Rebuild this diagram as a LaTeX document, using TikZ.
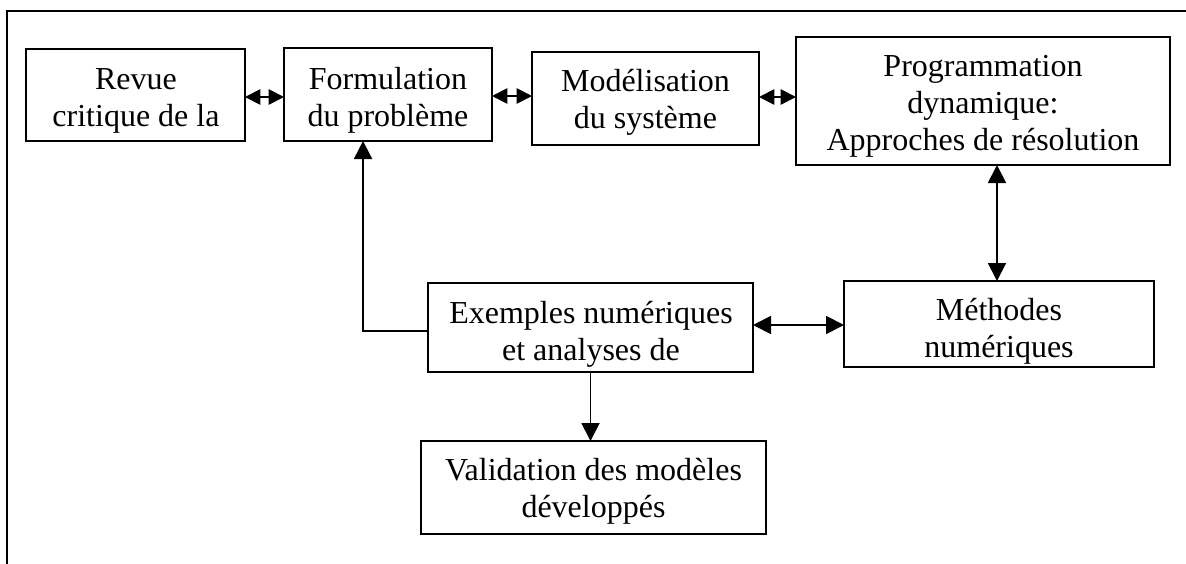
\documentclass[tikz,border=0pt]{standalone}
\usepackage{fontspec}
\setmainfont{Liberation Serif}
\usetikzlibrary{arrows.meta,calc}
\begin{document}
\begin{tikzpicture}[x=0.75pt,y=-0.75pt,
  frame/.style={line width=1.6pt},
  box/.style={draw,line width=1.5pt,rectangle,inner sep=0pt,outer sep=0pt},
  label/.style={align=center,inner sep=0pt,anchor=base,
    font=\fontsize{24}{27.75}\selectfont},
  link/.style={line width=1.4pt},
  head/.style={-{Triangle[length=13.5pt,width=13.5pt]}},
  heads/.style={{Triangle[length=13.5pt,width=13.5pt]}-{Triangle[length=13.5pt,width=13.5pt]}},
  shortheads/.style={{Triangle[length=11.5pt,width=11.5pt]}-{Triangle[length=11.5pt,width=11.5pt]}}]
\useasboundingbox (0,0) rectangle (1186,564);
% open outer frame: top and left sides only
\coordinate (ftr) at (1186,11);
\coordinate (ftl) at (7,11);
\coordinate (fbl) at (7,564);
\draw[frame] (ftr) -- (ftl) -- (fbl);

% boxes
\node[box,minimum width=164.25pt,minimum height=69pt]    (b1) at (135.5,95)   {};
\node[box,minimum width=156pt,minimum height=69.75pt]    (b2) at (388,94.5)   {};
\node[box,minimum width=170.25pt,minimum height=69.75pt] (b3) at (645.5,98.5) {};
\node[box,minimum width=280.5pt,minimum height=96pt]     (b4) at (983,101)    {};
\node[box,minimum width=243.75pt,minimum height=66.75pt] (b5) at (590.5,327.5){};
\node[box,minimum width=232.5pt,minimum height=64.5pt]   (b6) at (999,324)    {};
\node[box,minimum width=258.75pt,minimum height=69.75pt] (b7) at (593.5,487.5){};

% texts (anchored on the baseline of the last line)
\node[label] (t1) at (136,126) {Revue\\critique de la};
\node[label] (t2) at (388,126) {Formulation\\du problème};
\node[label] (t3) at (645.5,128) {Modélisation\\du système};
\node[label] (t4) at (983,150) {Programmation\\dynamique:\\Approches de résolution};
\begin{scope}
  \clip (b5.south west) rectangle (b5.north east);
  \node[label] (t5) at (591,360) {Exemples numériques\\et analyses de};
\end{scope}
\begin{scope}
  \clip (b6.south west) rectangle (b6.north east);
  \node[label] (t6) at (999,357) {Méthodes\\numériques};
\end{scope}
\node[label] (t7) at (593.5,517) {Validation des modèles\\développés};

% connectors
\draw[link,shortheads] ($(b1.east)+(0,2)$) -- ($(b1.east -| b2.west)+(0,2)$);
\draw[link,shortheads] ($(b2.east)+(0,1.5)$) -- ($(b2.east -| b3.west)+(0,1.5)$);
\draw[link,shortheads] ($(b3.east)+(0,-1.5)$) -- ($(b3.east -| b4.west)+(0,-1.5)$);
\draw[link,heads] ($(b6.north |- b4.south)+(-2,0)$) -- ($(b6.north)+(-2,0)$);
\draw[link,heads] ($(b6.west -| b5.east)+(0,1)$) -- ($(b6.west)+(0,1)$);
\draw[link,head] (b5.south) -- (b5.south |- b7.north);
\coordinate (b2in) at ($(b2.south west)!0.38!(b2.south east)$);
\draw[link,head] ($(b5.west)+(0,3.5)$) -| (b2in);
\end{tikzpicture}
\end{document}
